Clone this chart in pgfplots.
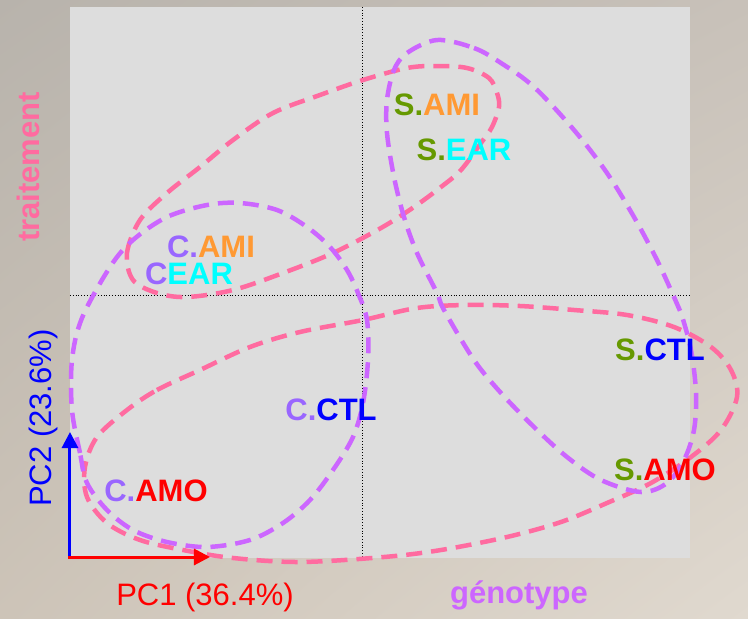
\documentclass[border=0pt]{standalone}
\usepackage{pgfplots}
\pgfplotsset{compat=1.18}
\usepackage{fontspec}
\setmainfont{Liberation Sans}
\usetikzlibrary{arrows.meta,shadings}

\definecolor{cPink}{RGB}{255,107,160}
\definecolor{cViolet}{RGB}{204,102,255}
\definecolor{cC}{RGB}{153,102,255}
\definecolor{cS}{RGB}{102,153,0}
\definecolor{cAMI}{RGB}{255,153,51}
\definecolor{cEAR}{RGB}{0,255,255}
\definecolor{cCTL}{RGB}{0,0,255}
\definecolor{cAMO}{RGB}{255,0,0}
\definecolor{plotbg}{RGB}{221,221,221}
\definecolor{bgUL}{RGB}{184,179,172}
\definecolor{bgUR}{RGB}{200,193,185}
\definecolor{bgLL}{RGB}{205,196,184}
\definecolor{bgLR}{RGB}{224,217,207}

\newcommand\labfont{\fontsize{31}{36}\selectfont\bfseries}
\newcommand\axfont{\fontsize{31}{36}\selectfont}

\begin{document}
\begin{tikzpicture}
\begin{axis}[
    scale only axis,
    width=620pt, height=551pt,
    xmin=70, xmax=690, ymin=7, ymax=558,
    y dir=reverse,
    hide axis,
    clip=false,
    ellipse/.style={smooth cycle, tension=0.55, line width=4.5pt, dash pattern=on 16pt off 9pt},
]
% fond
\shade[upper left=bgUL, upper right=bgUR, lower left=bgLL, lower right=bgLR]
    (axis cs:0,0) rectangle (axis cs:748,619);
\fill[plotbg] (axis cs:70,7) rectangle (axis cs:690,558);
\draw[black, dotted, line width=0.8pt] (axis cs:362,7) -- (axis cs:362,558);
\draw[black, dotted, line width=0.8pt] (axis cs:70,295) -- (axis cs:690,295);

% traitement : AMI / EAR
\addplot[ellipse, cPink] coordinates {
    (133,280) (127,253) (140,220) (167,193) (200,167) (233,140) (273,113)
    (320,95) (363,80) (407,68) (437,66) (467,68) (489,78) (497,93) (499,107)
    (492,127) (481,143) (461,170) (441,187) (414,207) (381,228) (333,253)
    (283,273) (233,290) (187,297) (157,293)
};
% traitement : CTL / AMO
\addplot[ellipse, cPink] coordinates {
    (127,410) (157,390) (200,370) (250,347) (300,332) (363,320) (417,308)
    (467,305) (520,306) (574,310) (627,315) (674,327) (711,347) (731,370)
    (737,397) (721,430) (691,457) (651,483) (607,503) (561,522) (507,537)
    (441,550) (384,557) (300,562) (233,558) (183,550) (140,540) (107,523)
    (87,497) (85,467) (97,437)
};
% genotype C
\addplot[ellipse, cViolet] coordinates {
    (87,483) (80,453) (72,410) (72,360) (82,318) (110,267) (133,240)
    (167,217) (207,205) (240,203) (277,210) (307,227) (330,247) (347,270)
    (358,293) (367,320) (368,360) (363,403) (353,437) (333,470) (310,500)
    (283,523) (250,540) (207,547) (167,542) (133,530) (107,510)
};
% genotype S
\addplot[ellipse, cViolet] coordinates {
    (437,40) (474,48) (501,63) (534,87) (574,130) (607,173) (634,217)
    (657,260) (674,297) (681,313) (691,350) (696,393) (694,430) (684,460)
    (667,483) (641,492) (601,480) (567,457) (534,427) (501,393) (474,360)
    (444,310) (437,293) (417,253) (404,217) (394,177) (387,133) (387,100)
    (394,70) (407,53)
};

% individus
\addplot[draw=none, mark=none, nodes near coords, point meta=explicit symbolic,
    every node near coord/.append style={anchor=center, inner sep=0pt, font=\labfont}]
coordinates {
    (211,247) [{\textcolor{cC}{C.}\textcolor{cAMI}{AMI}}]
    (189,274) [{\textcolor{cC}{C}\textcolor{cEAR}{EAR}}]
    (437,105) [{\textcolor{cS}{S.}\textcolor{cAMI}{AMI}}]
    (464,150) [{\textcolor{cS}{S.}\textcolor{cEAR}{EAR}}]
    (660,350) [{\textcolor{cS}{S.}\textcolor{cCTL}{CTL}}]
    (665,470) [{\textcolor{cS}{S.}\textcolor{cAMO}{AMO}}]
    (331,410) [{\textcolor{cC}{C.}\textcolor{cCTL}{CTL}}]
    (156,491) [{\textcolor{cC}{C.}\textcolor{cAMO}{AMO}}]
};

% axes PC1 / PC2
\draw[cCTL, line width=3pt, -{Triangle[length=16pt,width=16pt]}]
    (axis cs:70,559) -- (axis cs:70,432);
\draw[cAMO, line width=3pt, -{Triangle[length=16pt,width=16pt]}]
    (axis cs:68.5,557) -- (axis cs:210,557);
\node[text=cCTL, rotate=90, font=\axfont, inner sep=0pt] at (axis cs:43,418) {PC2 (23.6\%)};
\node[text=cAMO, font=\axfont, inner sep=0pt] at (axis cs:205,597) {PC1 (36.4\%)};
\node[text=cPink, rotate=90, font=\labfont, inner sep=0pt, anchor=base] at (axis cs:40,167) {traitement};
\node[text=cViolet, font=\labfont, inner sep=0pt, anchor=base] at (axis cs:519,603) {génotype};
\end{axis}
\end{tikzpicture}
\end{document}
